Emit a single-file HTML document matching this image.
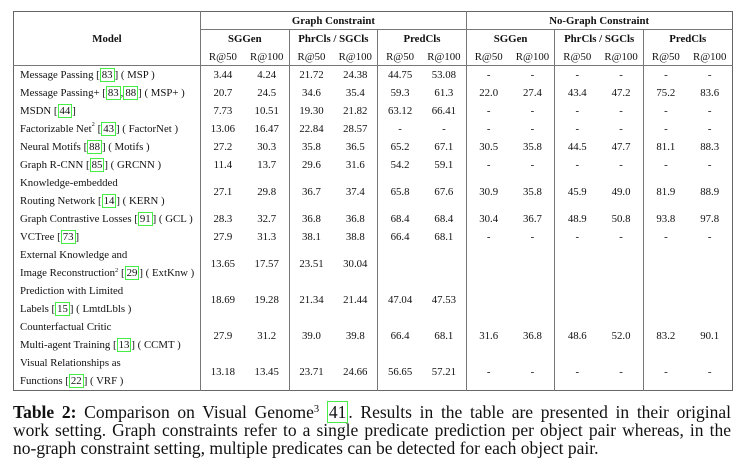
<!DOCTYPE html>
<html><head><meta charset="utf-8"><style>
body{margin:0;width:744px;height:475px;background:#fff;font-family:"Liberation Serif",serif;color:#111;position:relative;overflow:hidden}
table{position:absolute;left:13px;top:11px;width:719px;border-collapse:collapse;border:1px solid #666;font-size:10.8px;table-layout:fixed}
td,th{padding:0;text-align:center;vertical-align:middle;white-space:nowrap;overflow:hidden}
th{font-weight:bold}
.m{text-align:left;padding-left:6px}
.vl{border-left:1px solid #777}
.hb{border-bottom:1px solid #777}
.cite{border:1px solid #4e4;padding:0 1px}
.two{line-height:18px}
#cap{position:absolute;left:13px;top:403px;width:718px;font-size:17.5px;line-height:18px}
#cap div{text-align:justify;text-align-last:justify}
#cap div.l{text-align-last:left}
sup{font-size:0.6em;vertical-align:top;position:relative;top:-2px}
</style></head><body>
<table>
<colgroup><col style="width:187px"><col span="12" style="width:44.3px"></colgroup>
<tr style="height:18px"><th rowspan="3" class="hb">Model</th><th colspan="6" class="vl hb">Graph Constraint</th><th colspan="6" class="vl hb">No-Graph Constraint</th></tr>
<tr style="height:19px"><th colspan="2" class="vl">SGGen</th><th colspan="2" class="vl">PhrCls / SGCls</th><th colspan="2" class="vl">PredCls</th><th colspan="2" class="vl">SGGen</th><th colspan="2" class="vl">PhrCls / SGCls</th><th colspan="2" class="vl">PredCls</th></tr>
<tr style="height:17px" class="hb"><td class="vl hb">R@50</td><td class="hb">R@100</td><td class="vl hb">R@50</td><td class="hb">R@100</td><td class="vl hb">R@50</td><td class="hb">R@100</td><td class="vl hb">R@50</td><td class="hb">R@100</td><td class="vl hb">R@50</td><td class="hb">R@100</td><td class="vl hb">R@50</td><td class="hb">R@100</td></tr>
<tbody id="tb"></tbody>
</table>
<div id="cap">
<div><b>Table 2:</b> Comparison on Visual Genome<sup>3</sup> <span class="cite">41</span>. Results in the table are presented in their original</div>
<div>work setting. Graph constraints refer to a single predicate prediction per object pair whereas, in the</div>
<div class="l">no-graph constraint setting, multiple predicates can be detected for each object pair.</div>
</div>
<script>
const models=[
'Message Passing [<span class="cite">83</span>] ( MSP )',
'Message Passing+ [<span class="cite">83</span>,<span class="cite">88</span>] ( MSP+ )',
'MSDN [<span class="cite">44</span>]',
'Factorizable Net<sup>2</sup> [<span class="cite">43</span>] ( FactorNet )',
'Neural Motifs [<span class="cite">88</span>] ( Motifs )',
'Graph R-CNN [<span class="cite">85</span>] ( GRCNN )',
'Knowledge-embedded<br>Routing Network [<span class="cite">14</span>] ( KERN )',
'Graph Contrastive Losses [<span class="cite">91</span>] ( GCL )',
'VCTree [<span class="cite">73</span>]',
'External Knowledge and<br>Image Reconstruction<sup>2</sup> [<span class="cite">29</span>] ( ExtKnw )',
'Prediction with Limited<br>Labels [<span class="cite">15</span>] ( LmtdLbls )',
'Counterfactual Critic<br>Multi-agent Training [<span class="cite">13</span>] ( CCMT )',
'Visual Relationships as<br>Functions [<span class="cite">22</span>] ( VRF )'];
const values=[
['3.44','4.24','21.72','24.38','44.75','53.08','-','-','-','-','-','-'],
['20.7','24.5','34.6','35.4','59.3','61.3','22.0','27.4','43.4','47.2','75.2','83.6'],
['7.73','10.51','19.30','21.82','63.12','66.41','-','-','-','-','-','-'],
['13.06','16.47','22.84','28.57','-','-','-','-','-','-','-','-'],
['27.2','30.3','35.8','36.5','65.2','67.1','30.5','35.8','44.5','47.7','81.1','88.3'],
['11.4','13.7','29.6','31.6','54.2','59.1','-','-','-','-','-','-'],
['27.1','29.8','36.7','37.4','65.8','67.6','30.9','35.8','45.9','49.0','81.9','88.9'],
['28.3','32.7','36.8','36.8','68.4','68.4','30.4','36.7','48.9','50.8','93.8','97.8'],
['27.9','31.3','38.1','38.8','66.4','68.1','-','-','-','-','-','-'],
['13.65','17.57','23.51','30.04','','','','','','','',''],
['18.69','19.28','21.34','21.44','47.04','47.53','','','','','',''],
['27.9','31.2','39.0','39.8','66.4','68.1','31.6','36.8','48.6','52.0','83.2','90.1'],
['13.18','13.45','23.71','24.66','56.65','57.21','-','-','-','-','-','-']];
const tb=document.getElementById('tb');
models.forEach((m,i)=>{
  const tr=document.createElement('tr');
  
  
  const two=m.includes('<br>');
  tr.style.height=two?'36px':'18px';
  const td=document.createElement('td');
  td.className='m'+(two?' two':'');
  
  
  td.innerHTML=m;
  tr.appendChild(td);
  values[i].forEach((v,j)=>{
    const c=document.createElement('td');
    
    
    if(j%2===0)c.className='vl';
    c.textContent=v;
    tr.appendChild(c);
  });
  tb.appendChild(tr);
});
</script>
</body></html>
